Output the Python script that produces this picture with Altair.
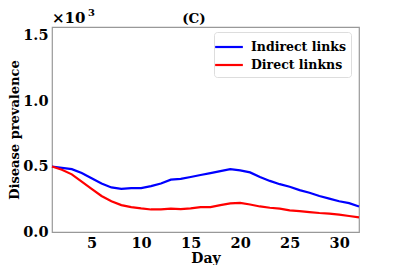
import altair as alt
import pandas as pd

days = list(range(1, 33))
indirect = [0.50, 0.49, 0.48, 0.45, 0.41, 0.37, 0.34, 0.33, 0.335, 0.335, 0.35, 0.37, 0.40, 0.405,
            0.42, 0.435, 0.45, 0.465, 0.48, 0.47, 0.455, 0.42, 0.39, 0.365, 0.345, 0.32, 0.30,
            0.275, 0.255, 0.235, 0.22, 0.195]
direct = [0.50, 0.475, 0.44, 0.385, 0.33, 0.275, 0.235, 0.205, 0.19, 0.18, 0.172, 0.172, 0.178,
          0.175, 0.18, 0.19, 0.19, 0.205, 0.218, 0.222, 0.21, 0.195, 0.185, 0.178, 0.165, 0.16,
          0.152, 0.145, 0.14, 0.132, 0.122, 0.112]
series = ["Indirect links", "Direct linkns"]

df = pd.DataFrame({
    "Day": days * 2,
    "value": indirect + direct,
    "series": [series[0]] * len(days) + [series[1]] * len(days),
})

FONT = "DejaVu Serif"

lines = alt.Chart(df).mark_line(strokeWidth=2.2).encode(
    x=alt.X("Day:Q", scale=alt.Scale(domain=[1, 32], nice=False),
            axis=alt.Axis(values=[5, 10, 15, 20, 25, 30], title="Day", grid=False)),
    y=alt.Y("value:Q", scale=alt.Scale(domain=[0, 1.565], nice=False),
            axis=alt.Axis(values=[0, 0.5, 1.0, 1.5], format=".1f", title="Disease prevalence", grid=False)),
    color=alt.Color("series:N", sort=series,
                    scale=alt.Scale(domain=series, range=["#0000ff", "#ff0000"]),
                    legend=alt.Legend(title=None, orient="none", legendX=162, legendY=5,
                                      symbolType="M-1.6,0H1.6", symbolStrokeWidth=2.2, symbolSize=300,
                                      symbolFillColor="transparent",
                                      labelFont=FONT, labelFontWeight="bold", labelFontSize=12.5,
                                      labelColor="black",
                                      strokeColor="#dddddd", fillColor="white", padding=5,
                                      cornerRadius=3, rowPadding=1, labelOffset=12)),
)

def label(txt, x, y, size, align="left"):
    return alt.Chart(pd.DataFrame({"t": [txt]})).mark_text(
        align=align, baseline="alphabetic", font=FONT, fontWeight="bold", fontSize=size, color="black"
    ).encode(x=alt.value(x), y=alt.value(y), text="t:N")

chart = alt.layer(
    lines,
    label("×10", 0, -4, 15),
    label("3", 36, -11, 10),
    label("(C)", 142, -4, 13.5, "center"),
).properties(
    width=307, height=205,
    autosize=alt.AutoSizeParams(type="none"),
    padding={"left": 44, "top": 19, "right": 32, "bottom": 33},
).configure_view(stroke="#999999", strokeWidth=1.2).configure_axis(
    domain=False, ticks=False, labelFont=FONT, labelFontWeight="bold", labelFontSize=14.5,
    labelColor="black", titleFont=FONT, titleFontWeight="bold", titleFontSize=13,
    titleColor="black", labelPadding=4,
).configure_axisY(titlePadding=1).configure_axisX(titlePadding=2, titleFontSize=14).configure_legend(
    labelFont=FONT, labelFontWeight="bold")

chart.save("out.html", embed_options={"renderer": "svg", "actions": False})
